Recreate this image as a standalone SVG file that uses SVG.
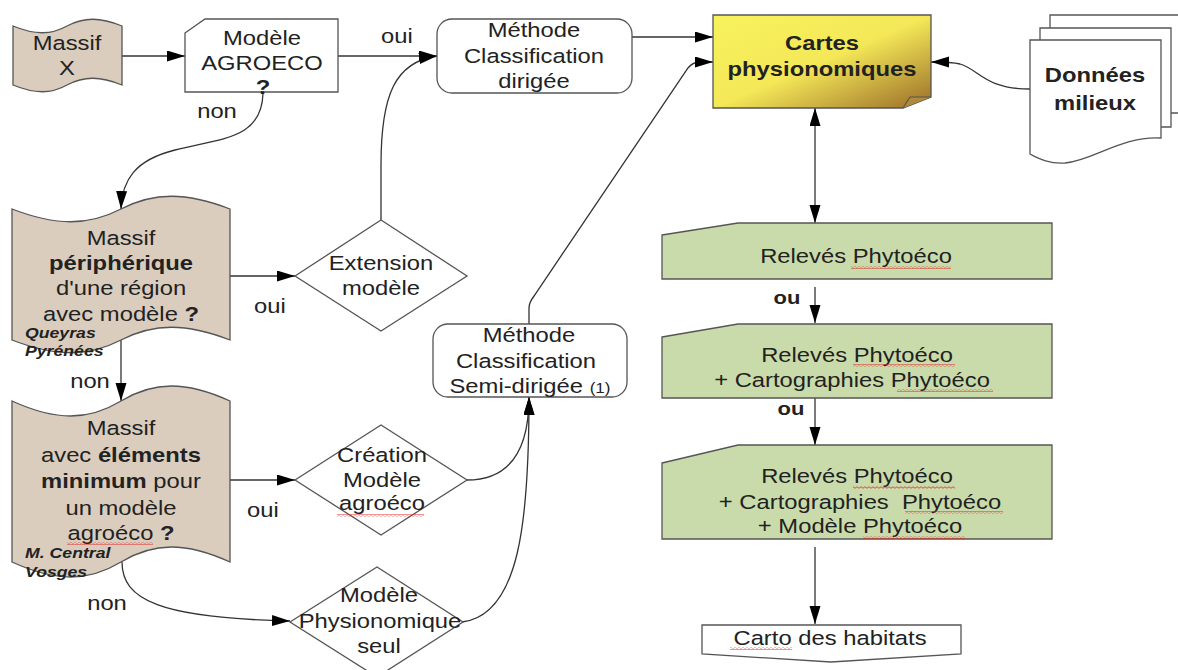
<svg xmlns="http://www.w3.org/2000/svg" width="1178" height="670" viewBox="0 0 1178 670">
<style>
  .t { font-family: "Liberation Sans", Arial, sans-serif; font-size: 19.5px; fill: #222; text-anchor: middle; }
  .b { font-weight: bold; }
  .s { font-family: "Liberation Sans", Arial, sans-serif; font-size: 14.5px; font-weight: bold; font-style: italic; fill: #222; }
  .tan { fill: #dacdbe; stroke: #555; stroke-width: 1.3; }
  .box { fill: #fff; stroke: #555; stroke-width: 1.3; }
  .green { fill: #c9dbab; stroke: #555; stroke-width: 1.3; }
  .link { fill: none; stroke: #333; stroke-width: 1.3; marker-end: url(#arr); }
  .sq { fill: url(#squiggle); }
</style>
<defs>
  <marker id="arr" markerUnits="userSpaceOnUse" markerWidth="20" markerHeight="12" refX="18" refY="5.5" orient="auto">
    <path d="M0,0 L18,5.5 L0,11 Z" fill="#000"/>
  </marker>
  <marker id="arrS" markerUnits="userSpaceOnUse" markerWidth="20" markerHeight="12" refX="18" refY="5.5" orient="auto-start-reverse">
    <path d="M0,0 L18,5.5 L0,11 Z" fill="#000"/>
  </marker>
  <linearGradient id="gold" x1="0" y1="0" x2="1" y2="1">
    <stop offset="0" stop-color="#f8f25e"/>
    <stop offset="0.5" stop-color="#f4e858"/>
    <stop offset="1" stop-color="#9a6d28"/>
  </linearGradient>
  <pattern id="squiggle" patternUnits="userSpaceOnUse" width="4" height="3">
    <path d="M0,1.5 Q1,0 2,1.5 T4,1.5" fill="none" stroke="#e02424" stroke-width="0.8"/>
  </pattern>
</defs>

<!-- connectors -->
<g id="connectors">
  <path class="link" d="M121,56 L185,56"/>
  <path class="link" d="M338,56 L437,56"/>
  <path class="link" d="M632,37 L713,37"/>
  <path class="link" d="M263,93 C262,140 220,138 175,150 C135,160 122,180 121,209"/>
  <path class="link" d="M230,276 L295,276"/>
  <path class="link" d="M381,220 L381,165 C381,95 395,62 437,56"/>
  <path class="link" d="M121,340 L121,401"/>
  <path class="link" d="M230,480 L295,480"/>
  <path class="link" d="M122,562 C122,600 160,618 290,621"/>
  <path class="link" d="M467,480 C510,480 529,450 529,397"/>
  <path class="link" d="M462,622 C520,615 529,520 529,397"/>
  <path class="link" d="M529,324 L529,308 C529,303 531,300 534,296 L688,68 C692,63 696,62 700,62 L713,62"/>
  <path class="link" d="M1030,89 C985,89 980,70 960,64 C952,62 945,62 931,62"/>
  <path class="link" d="M815,108 L815,223" marker-start="url(#arrS)" style="marker-end:url(#arrS)"/>
  <path class="link" d="M815,287 L815,323"/>
  <path class="link" d="M815,398 L815,445"/>
  <path class="link" d="M815,547 L815,624"/>
  <text class="t" transform="translate(397,43) scale(1.22,1)">oui</text>
  <text class="t" transform="translate(217,118) scale(1.22,1)">non</text>
  <text class="t" transform="translate(270,313) scale(1.22,1)">oui</text>
  <text class="t" transform="translate(90,388) scale(1.22,1)">non</text>
  <text class="t" transform="translate(263,517) scale(1.22,1)">oui</text>
  <text class="t" transform="translate(107,610) scale(1.22,1)">non</text>
  <text class="t b" style="font-size:18px" transform="translate(787,304) scale(1.22,1)">ou</text>
  <text class="t b" style="font-size:18px" transform="translate(791,415) scale(1.22,1)">ou</text>
</g>

<!-- Massif X -->
<g id="massif-x">
  <path class="tan" d="M13,26 C35,35 51,35 67,26 C84,17 100,17 122,26 L122,85 C100,76 84,76 67,85 C51,94 35,94 13,85 Z"/>
  <text class="t" transform="translate(67,50) scale(1.22,1)">Massif</text>
  <text class="t" transform="translate(67,75) scale(1.22,1)">X</text>
</g>

<!-- Modèle AGROECO -->
<g id="modele-agroeco">
  <path class="box" d="M185,33 L205,19 H338 V92 H185 Z"/>
  <text class="t" transform="translate(262,45) scale(1.22,1)">Modèle</text>
  <text class="t" transform="translate(262,70) scale(1.22,1)">AGROECO</text>
  <text class="t b" transform="translate(263,94) scale(1.22,1)">?</text>
</g>

<!-- Méthode Classification dirigée -->
<g id="methode-dirigee">
  <rect class="box" x="437" y="19" width="195" height="74" rx="15"/>
  <text class="t" transform="translate(534,37) scale(1.22,1)">Méthode</text>
  <text class="t" transform="translate(534,63) scale(1.22,1)">Classification</text>
  <text class="t" transform="translate(534,88) scale(1.22,1)">dirigée</text>
</g>

<!-- Cartes physionomiques -->
<g id="cartes">
  <path d="M713,15 H931 V97 L903,108 H713 Z" fill="url(#gold)" stroke="#555" stroke-width="1.3"/>
  <path d="M903,108 L910,97 L931,97" fill="#b08a3a" stroke="#555" stroke-width="1.1"/>
  <text class="t b" transform="translate(822,50) scale(1.22,1)">Cartes</text>
  <text class="t b" transform="translate(822,76) scale(1.22,1)">physionomiques</text>
</g>

<!-- Données milieux -->
<g id="donnees">
  <path class="box" d="M1050,113 V15 H1190 V113 Z"/>
  <path class="box" d="M1040,127 V28 H1171 V127 Z"/>
  <path class="box" d="M1030,40 H1161 V138 C1120,136 1095,160 1065,163 C1048,164 1038,158 1030,154 Z"/>
  <text class="t b" transform="translate(1095,82) scale(1.22,1)">Données</text>
  <text class="t b" transform="translate(1095,110) scale(1.22,1)">milieux</text>
</g>

<!-- Massif périphérique -->
<g id="massif-peripherique">
  <path class="tan" d="M12,209 C56,226 88,226 121,209 C154,192 186,192 230,209 L230,340 C186,323 154,323 121,340 C88,357 56,357 12,340 Z"/>
  <text class="t" transform="translate(121,245) scale(1.22,1)">Massif</text>
  <text class="t b" transform="translate(121,270) scale(1.22,1)">périphérique</text>
  <text class="t" transform="translate(121,295) scale(1.22,1)">d'une région</text>
  <text class="t" transform="translate(121,321) scale(1.22,1)">avec modèle <tspan class="b">?</tspan></text>
  <text class="s" transform="translate(25,338) scale(1.22,1)">Queyras</text>
  <text class="s" transform="translate(25,356) scale(1.22,1)">Pyrénées</text>
</g>

<!-- Massif avec éléments minimum -->
<g id="massif-elements">
  <path class="tan" d="M12,401 C56,421 88,421 121,401 C154,381 186,381 230,401 L230,562 C186,542 154,542 121,562 C88,582 56,582 12,562 Z"/>
  <text class="t" transform="translate(121,435) scale(1.22,1)">Massif</text>
  <text class="t" transform="translate(121,462) scale(1.22,1)">avec <tspan class="b">éléments</tspan></text>
  <text class="t" transform="translate(121,488) scale(1.22,1)"><tspan class="b">minimum</tspan> pour</text>
  <text class="t" transform="translate(121,515) scale(1.22,1)">un modèle</text>
  <text class="t" transform="translate(121,540) scale(1.22,1)">agroéco <tspan class="b">?</tspan></text>
  <rect class="sq" x="67" y="542" width="86" height="3"/>
  <text class="s" transform="translate(25,558) scale(1.22,1)">M. Central</text>
  <text class="s" transform="translate(25,577) scale(1.22,1)">Vosges</text>
</g>

<!-- Extension modèle -->
<g id="extension">
  <path class="box" d="M295,276 L381,220 L467,276 L381,331 Z"/>
  <text class="t" transform="translate(381,270) scale(1.22,1)">Extension</text>
  <text class="t" transform="translate(381,295) scale(1.22,1)">modèle</text>
</g>

<!-- Méthode Classification Semi-dirigée -->
<g id="methode-semi">
  <rect class="box" x="433" y="324" width="194" height="73" rx="15"/>
  <text class="t" transform="translate(529,342) scale(1.22,1)">Méthode</text>
  <text class="t" transform="translate(526,368) scale(1.22,1)">Classification</text>
  <text class="t" transform="translate(530,393) scale(1.22,1)">Semi-dirigée <tspan style="font-size:14px">(1)</tspan></text>
</g>

<!-- Création Modèle agroéco -->
<g id="creation">
  <path class="box" d="M295,480 L381,425 L467,480 L381,535 Z"/>
  <text class="t" transform="translate(382,462) scale(1.22,1)">Création</text>
  <text class="t" transform="translate(382,487) scale(1.22,1)">Modèle</text>
  <text class="t" transform="translate(382,510) scale(1.22,1)">agroéco</text>
  <rect class="sq" x="337" y="514" width="87" height="3"/>
</g>

<!-- Modèle Physionomique seul -->
<g id="physionomique">
  <path class="box" d="M290,622 L377,567 L463,622 L377,677 Z"/>
  <text class="t" transform="translate(379,602) scale(1.22,1)">Modèle</text>
  <text class="t" transform="translate(380,628) scale(1.22,1)">Physionomique</text>
  <text class="t" transform="translate(379,653) scale(1.22,1)">seul</text>
</g>

<!-- Relevés -->
<g id="releves-1">
  <path class="green" d="M662,235 L738,223 H1052 V279 H662 Z"/>
  <text class="t" transform="translate(856,263) scale(1.22,1)">Relevés Phytoéco</text>
  <rect class="sq" x="851" y="266" width="100" height="3"/>
</g>

<g id="releves-2">
  <path class="green" d="M662,337 L738,324 H1052 V398 H662 Z"/>
  <text class="t" transform="translate(857,362) scale(1.22,1)">Relevés Phytoéco</text>
  <text class="t" transform="translate(852,387) scale(1.22,1)">+ Cartographies Phytoéco</text>
  <rect class="sq" x="853" y="364" width="102" height="3"/>
  <rect class="sq" x="897" y="389" width="96" height="3"/>
</g>

<g id="releves-3">
  <path class="green" d="M662,463 L738,445 H1052 V539 H662 Z"/>
  <text class="t" transform="translate(857,483) scale(1.22,1)">Relevés Phytoéco</text>
  <text class="t" transform="translate(860,509) scale(1.22,1)" xml:space="preserve">+ Cartographies  Phytoéco</text>
  <text class="t" transform="translate(860,533) scale(1.22,1)">+ Modèle Phytoéco</text>
  <rect class="sq" x="853" y="486" width="102" height="3"/>
  <rect class="sq" x="905" y="511" width="98" height="3"/>
  <rect class="sq" x="863" y="536" width="102" height="3"/>
</g>

<!-- Carto des habitats -->
<g id="carto-habitats">
  <path class="box" d="M702,625 H961 V654 L831,662 L702,654 Z"/>
  <text class="t" transform="translate(830,645) scale(1.22,1)">Carto des habitats</text>
  <rect class="sq" x="730" y="647" width="62" height="3"/>
</g>
</svg>
